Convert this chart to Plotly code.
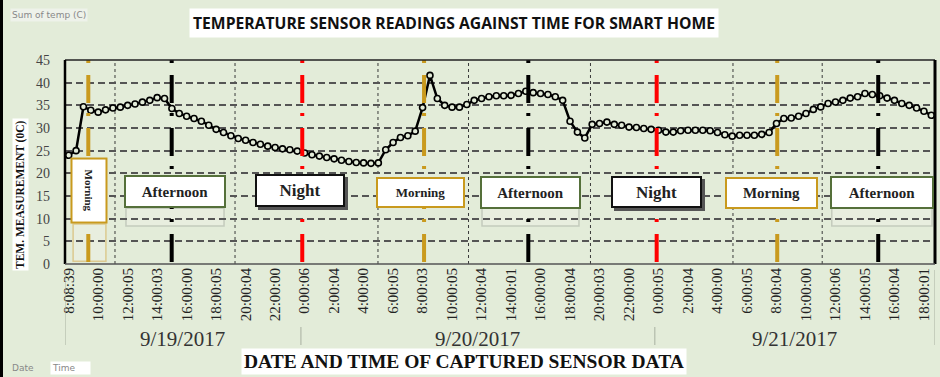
import plotly.graph_objects as go

# ---------------- data ----------------
temps = [
    24.0, 25.0, 34.7, 33.9, 33.5, 34.0, 34.4, 34.6, 35.0, 35.3,
    35.7, 36.1, 36.7, 36.5, 34.3, 33.2, 32.6, 32.1, 31.5, 30.6,
    29.7, 29.0, 28.3, 27.7, 27.3, 26.8, 26.4, 26.0, 25.7, 25.4,
    25.2, 24.9, 24.5, 24.1, 23.8, 23.5, 23.2, 22.9, 22.6, 22.4,
    22.3, 22.2, 22.3, 25.2, 26.8, 27.9, 28.3, 29.3, 34.5, 41.6,
    36.5, 35.0, 34.6, 34.6, 35.2, 36.1, 36.5, 36.9, 37.1, 37.1,
    37.2, 37.6, 38.1, 37.8, 37.6, 37.4, 36.9, 36.1, 31.5, 29.1,
    27.8, 30.8, 31.0, 31.3, 30.8, 30.6, 30.2, 30.1, 29.9, 29.7,
    29.5, 29.1, 29.1, 29.4, 29.5, 29.5, 29.5, 29.4, 29.0, 28.5,
    28.2, 28.4, 28.4, 28.4, 28.6, 29.0, 31.0, 32.1, 32.2, 32.6,
    33.2, 34.1, 34.65, 35.4, 35.75, 36.1, 36.6, 36.9, 37.6, 37.4,
    37.1, 36.6, 36.1, 35.4, 35.0, 34.4, 33.7, 32.8,
]
sample_index = list(range(len(temps)))

tick_labels = [
    "8:08:39", "10:00:00", "12:00:05", "14:00:03", "16:00:00", "18:00:05", "20:00:04", "22:00:00",
    "0:00:06", "2:00:04", "4:00:00", "6:00:05", "8:00:03", "10:00:05", "12:00:04", "14:00:01",
    "16:00:00", "18:00:04", "20:00:03", "22:00:00",
    "0:00:05", "2:00:04", "4:00:00", "6:00:05", "8:00:04", "10:00:00", "12:00:06", "14:00:05",
    "16:00:04", "18:00:01",
]
tick_positions = [4 * k for k in range(len(tick_labels))]

dates = ["9/19/2017", "9/20/2017", "9/21/2017"]
date_centers = [15.5, 55.5, 98.5]
date_bounds = [-0.5, 31.5, 79.5, 117.5]

# period marker lines (sample index) and their colours
marker_lines = [2.66, 13.97, 31.68, 48.2, 62.34, 79.75, 96.1, 109.8]
marker_colors = ["#c99a1e", "#000000", "#ff0000", "#c99a1e", "#000000", "#ff0000", "#c99a1e", "#000000"]

# period separators (thin dotted)
separators = [6.28, 22.56, 41.95, 54.23, 70.77, 90.1, 102.2]

# period boxes: label, x (index), y (value), width, height, border colour, font size, angle
periods = [
    ("Morning", 2.82, 16.1, 60, 31, "#c99a1e", 11, 90),
    ("Afternoon", 14.42, 16.0, 96, 27, "#55703a", 15, 0),
    ("Night", 31.37, 16.2, 84, 27, "#111111", 17, 0),
    ("Morning", 47.7, 15.8, 83, 25, "#c99a1e", 13, 0),
    ("Afternoon", 62.64, 15.8, 95, 27, "#55703a", 15, 0),
    ("Night", 79.73, 15.9, 85, 26, "#111111", 17, 0),
    ("Morning", 95.32, 15.7, 87, 26, "#c99a1e", 15, 0),
    ("Afternoon", 110.3, 15.8, 98, 27, "#55703a", 15, 0),
]

# faint reflections under some boxes: x0, x1, y0, y1, colour
reflections = [
    (0.6, 5.05, 0.6, 8.8, "#dcc98f"),
    (7.77, 21.07, 8.4, 12.3, "#c4cbbd"),
    (56.06, 69.21, 8.4, 12.3, "#c4cbbd"),
    (103.5, 117.1, 8.4, 12.3, "#c4cbbd"),
]

BG = "#e3ecd9"
SERIF = "Liberation Serif"
PT, PB, PL, PR = 60, 264, 65, 935
PH = PB - PT
PW = PR - PL


def px_x(px):
    return (px - PL) / PW


def px_y(py):
    return (PB - py) / PH


fig = go.Figure()
fig.add_trace(go.Scatter(
    x=sample_index, y=temps, mode="lines+markers",
    line=dict(color="black", width=2.5),
    marker=dict(symbol="circle", size=6, color=BG, line=dict(color="black", width=1.6)),
    showlegend=False, hoverinfo="skip",
))

shapes = []
for s in separators:
    shapes.append(dict(type="line", xref="x", yref="y", x0=s, x1=s, y0=0, y1=45,
                       line=dict(color="#3a3a3a", width=1, dash="dot"), layer="below"))
for x0, x1, y0, y1, c in reflections:
    shapes.append(dict(type="rect", xref="x", yref="y", x0=x0, x1=x1, y0=y0, y1=y1,
                       line=dict(color=c, width=1.5), fillcolor="rgba(240,244,236,0.35)", layer="below"))
for xv, c in zip(marker_lines, marker_colors):
    shapes.append(dict(type="line", xref="x", yref="y", x0=xv, x1=xv, y0=45, y1=0,
                       line=dict(color=c, width=4, dash="3px,12px,28px,10px")))
shapes += [
    dict(type="line", xref="paper", yref="paper", x0=0, x1=1, y0=1, y1=1, line=dict(color="#222", width=1.5)),
    dict(type="line", xref="paper", yref="paper", x0=0, x1=0, y0=0, y1=1, line=dict(color="#000", width=2.5)),
    dict(type="line", xref="paper", yref="paper", x0=1, x1=1, y0=0, y1=1, line=dict(color="#000", width=3)),
    dict(type="line", xref="paper", yref="paper", x0=0, x1=1, y0=0, y1=0, line=dict(color="#555", width=1.5)),
]
for i, b in enumerate(date_bounds):
    top = 270 if i in (0, len(date_bounds) - 1) else 327
    shapes.append(dict(type="line", xref="x", yref="paper", x0=b, x1=b,
                       y0=px_y(top), y1=px_y(345), line=dict(color="#a8b0a0", width=1)))
shapes.append(dict(type="line", xref="paper", yref="paper", x0=px_x(1.5), x1=px_x(1.5),
                   y0=px_y(377), y1=px_y(0), line=dict(color="#000", width=3)))

annotations = []
for label, xv, yv, w, h, col, fs, ang in periods:
    if label == "Night":
        annotations.append(dict(xref="x", yref="y", x=xv, y=yv, text="", showarrow=False,
                                xanchor="center", yanchor="middle",
                                width=w, height=h, bgcolor="#555", xshift=3, yshift=-3,
                                borderwidth=2, bordercolor="#555"))
    annotations.append(dict(xref="x", yref="y", x=xv, y=yv, text="<b>%s</b>" % label, showarrow=False,
                            xanchor="center", yanchor="middle",
                            width=w, height=h, bgcolor="white", bordercolor=col, borderwidth=2,
                            textangle=ang, font=dict(family=SERIF, size=fs, color="#222")))
for d, c in zip(dates, date_centers):
    annotations.append(dict(xref="x", yref="paper", x=c, y=px_y(339), text=d, showarrow=False,
                            xanchor="center", yanchor="middle",
                            font=dict(family=SERIF, size=21, color="#333")))
annotations.append(dict(xref="paper", yref="paper", x=px_x(453.5), y=px_y(23),
                        xanchor="center", yanchor="middle",
                        text="<b>TEMPERATURE SENSOR READINGS AGAINST TIME FOR SMART HOME</b>",
                        showarrow=False, bgcolor="white", borderpad=3,
                        font=dict(family="Open Sans", size=15.7, color="#111")))
annotations.append(dict(xref="paper", yref="paper", x=px_x(464), y=px_y(361),
                        xanchor="center", yanchor="middle",
                        text="<b>DATE AND TIME OF CAPTURED SENSOR DATA</b>", showarrow=False,
                        bgcolor="white", borderpad=2,
                        font=dict(family=SERIF, size=19.5, color="#111")))
annotations.append(dict(xref="paper", yref="paper", x=px_x(20), y=px_y(195),
                        xanchor="center", yanchor="middle",
                        text="<b>TEM. MEASUREMENT (0C)</b>", showarrow=False, textangle=-90,
                        bgcolor="white", borderpad=1,
                        font=dict(family=SERIF, size=11.5, color="#111")))
annotations.append(dict(xref="paper", yref="paper", x=px_x(10), y=px_y(15),
                        xanchor="left", yanchor="middle", text="Sum of temp (C)", showarrow=False,
                        bgcolor="#eef2ea", font=dict(family="DejaVu Sans", size=9, color="#888")))
annotations.append(dict(xref="paper", yref="paper", x=px_x(10), y=px_y(368),
                        xanchor="left", yanchor="middle", text="Date", showarrow=False,
                        font=dict(family="DejaVu Sans", size=9, color="#888")))
annotations.append(dict(xref="paper", yref="paper", x=px_x(50), y=px_y(368),
                        xanchor="left", yanchor="middle", text="Time&nbsp;&nbsp;&nbsp;&nbsp;&nbsp;",
                        showarrow=False, bgcolor="white",
                        font=dict(family="DejaVu Sans", size=9, color="#888")))

fig.update_layout(
    width=940, height=377,
    margin=dict(l=PL, r=940 - PR, t=PT, b=377 - PB),
    paper_bgcolor=BG, plot_bgcolor=BG,
    showlegend=False,
    shapes=shapes, annotations=annotations,
    xaxis=dict(range=[-0.5, 117.5], tickmode="array", tickvals=tick_positions, ticktext=tick_labels,
               tickangle=-90, tickfont=dict(family=SERIF, size=15, color="#222"),
               showgrid=False, zeroline=False, showline=False, ticks="", automargin=False),
    yaxis=dict(range=[0, 45], dtick=5, tickfont=dict(family=SERIF, size=14, color="#444"),
               showgrid=True, gridcolor="#555", gridwidth=1.5, griddash="7px,4px",
               zeroline=False, showline=False, ticks="", ticklabelstandoff=14, automargin=False),
)

fig.write_html("out.html", config={"displayModeBar": False},
               post_script="document.body.style.margin='0';document.body.style.padding='0';")
